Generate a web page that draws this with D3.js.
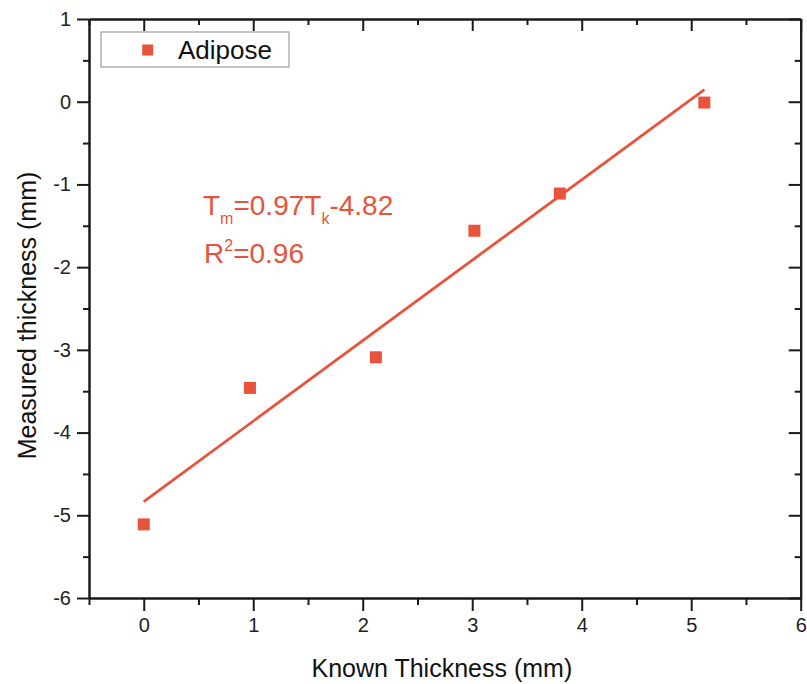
<!DOCTYPE html>
<html><head><meta charset="utf-8">
<script src="https://cdn.jsdelivr.net/npm/d3@7"></script>
<style>body{margin:0;background:#fff}svg{display:block;font-family:"Liberation Sans",Arial,sans-serif}</style>
</head><body>
<script>
const knownThickness = [0, 0.97, 2.12, 3.02, 3.80, 5.12];
const measuredThickness = [-5.11, -3.46, -3.09, -1.56, -1.11, -0.01];
const fitSlope = 0.973;
const fitIntercept = -4.835;
const xTicks = [0, 1, 2, 3, 4, 5, 6];
const yTicks = [-6, -5, -4, -3, -2, -1, 0, 1];
const seriesName = "Adipose";
const eqText = {a: "0.97", b: "-4.82", r2: "0.96"};

const W = 807, H = 684;
const L = 89, R = 800.7, T = 19, B = 598;
const red = "#e8533b", axisCol = "#1a1a1a";
const FONT = "'Liberation Sans', Arial, sans-serif";
const svg = d3.select("body").append("svg").attr("width", W).attr("height", H);
const x = d3.scaleLinear().domain([-0.5, 6]).range([L, R]);
const y = d3.scaleLinear().domain([-6, 1]).range([B, T]);
const xMinor = d3.range(-0.5, 6.01, 0.5).filter(v => !xTicks.includes(v));
const yMinor = d3.range(-5.5, 1, 1);
const fmt = d => String(d);

function styleAx(g){
  g.attr("font-family", FONT).attr("font-size", 20);
  g.select(".domain").attr("stroke", axisCol).attr("stroke-width", 2);
  g.selectAll(".tick line").attr("stroke", axisCol).attr("stroke-width", 2);
  g.selectAll(".tick text").attr("fill", "#222").attr("font-family", FONT).attr("font-size", 20).style("font-size", "20px");
}
// bottom
svg.append("g").attr("transform", `translate(0,${B})`)
  .call(d3.axisBottom(x).tickValues(xTicks).tickFormat(fmt).tickSize(13).tickSizeOuter(0).tickPadding(7))
  .call(styleAx);
svg.append("g").attr("transform", `translate(0,${B})`)
  .call(d3.axisBottom(x).tickValues(xMinor).tickFormat("").tickSize(7).tickSizeOuter(0)).call(styleAx);
// top
svg.append("g").attr("transform", `translate(0,${T})`)
  .call(d3.axisBottom(x).tickValues(xTicks).tickFormat("").tickSize(12).tickSizeOuter(0)).call(styleAx);
svg.append("g").attr("transform", `translate(0,${T})`)
  .call(d3.axisBottom(x).tickValues(xMinor).tickFormat("").tickSize(6).tickSizeOuter(0)).call(styleAx);
// left
svg.append("g").attr("transform", `translate(${L},0)`)
  .call(d3.axisLeft(y).tickValues(yTicks).tickFormat(fmt).tickSize(12).tickSizeOuter(0).tickPadding(6))
  .call(styleAx);
svg.append("g").attr("transform", `translate(${L},0)`)
  .call(d3.axisLeft(y).tickValues(yMinor).tickFormat("").tickSize(6).tickSizeOuter(0)).call(styleAx);
// right
svg.append("g").attr("transform", `translate(${R},0)`)
  .call(d3.axisLeft(y).tickValues(yTicks).tickFormat("").tickSize(12).tickSizeOuter(0)).call(styleAx);
svg.append("g").attr("transform", `translate(${R},0)`)
  .call(d3.axisLeft(y).tickValues(yMinor).tickFormat("").tickSize(6).tickSizeOuter(0)).call(styleAx);

// fit line
const x0 = 0, x1 = d3.max(knownThickness);
svg.append("line")
  .attr("x1", x(x0)).attr("y1", y(fitSlope*x0+fitIntercept))
  .attr("x2", x(x1)).attr("y2", y(fitSlope*x1+fitIntercept))
  .attr("stroke", red).attr("stroke-width", 2.8);

// points
const sq = 12;
svg.append("g").selectAll("rect").data(knownThickness).join("rect")
  .attr("x", (d,i) => x(d) - sq/2).attr("y", (d,i) => y(measuredThickness[i]) - sq/2)
  .attr("width", sq).attr("height", sq).attr("fill", red);

// legend
svg.append("rect").attr("x", 101).attr("y", 32).attr("width", 188).attr("height", 35)
  .attr("fill", "#fff").attr("stroke", "#8a8a8a").attr("stroke-width", 1);
svg.append("rect").attr("x", 147.7 - 5.5).attr("y", 50 - 5.5).attr("width", 11).attr("height", 11).attr("fill", red);
svg.append("text").attr("x", 178).attr("y", 58.5).attr("font-size", 26).attr("fill", "#111").text(seriesName);

// equation
const eq = svg.append("text").attr("x", 203).attr("y", 215).attr("font-size", 28).attr("fill", red);
eq.append("tspan").text("T");
eq.append("tspan").attr("font-size", 16).attr("dy", 9).text("m");
eq.append("tspan").attr("dy", -9).text("=" + eqText.a + "T");
eq.append("tspan").attr("font-size", 16).attr("dy", 9).text("k");
eq.append("tspan").attr("dy", -9).text(eqText.b);
const r2 = svg.append("text").attr("x", 204).attr("y", 263).attr("font-size", 28).attr("fill", red);
r2.append("tspan").text("R");
r2.append("tspan").attr("font-size", 16).attr("dy", -12).text("2");
r2.append("tspan").attr("dy", 12).text("=" + eqText.r2);

// axis titles
svg.append("text").attr("x", (L+R)/2 - 3).attr("y", 677).attr("text-anchor", "middle")
  .attr("font-size", 25).attr("fill", "#111").text("Known Thickness (mm)");
svg.append("text").attr("transform", `translate(36,${(T+B)/2 + 7}) rotate(-90)`).attr("text-anchor", "middle")
  .attr("font-size", 25).attr("fill", "#111").text("Measured thickness (mm)");
</script>
</body></html>
